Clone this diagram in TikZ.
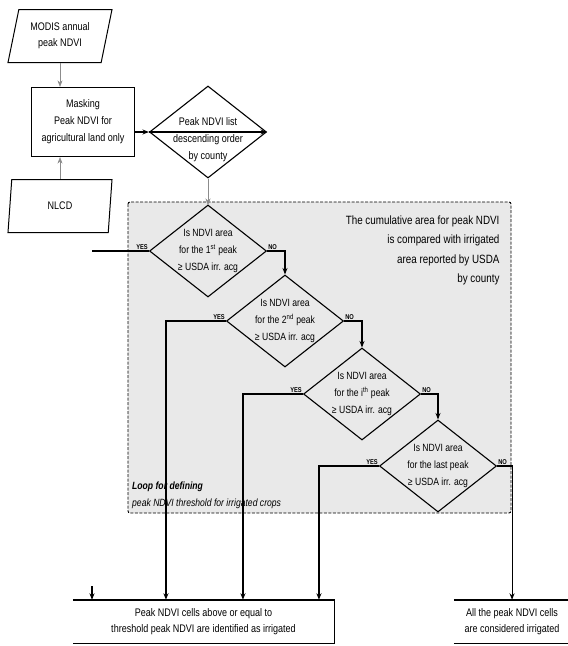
\documentclass[tikz,border=0pt]{standalone}
\usepackage{fontspec}
\setmainfont{Liberation Sans}[FakeStretch=0.82]
\usetikzlibrary{shapes.geometric,arrows.meta}
\definecolor{loopgray}{RGB}{233,233,233}
\tikzset{
  decision/.style={draw,diamond,line width=1.1pt,minimum width=117pt,minimum height=92pt,inner sep=0pt},
  dtext/.style={align=center,font=\fontsize{10.5}{17}\selectfont,inner sep=0pt},
  inout/.style={draw,trapezium,trapezium left angle=69,trapezium right angle=111,trapezium stretches body,
    line width=1pt,minimum width=104pt,minimum height=53pt,inner sep=1pt,align=center,font=\fontsize{11}{16}\selectfont},
  process/.style={draw,rectangle,line width=1.2pt,minimum width=103pt,minimum height=69pt,align=center,
    font=\fontsize{11}{17}\selectfont},
  result/.style={rectangle,minimum height=43pt,align=center,font=\fontsize{11}{16}\selectfont},
  boxline/.style={line width=1.4pt},
  flow/.style={line width=1.1pt},
  feed/.style={line width=0.5pt,black!45},
  yn/.style={font=\fontsize{7}{8}\selectfont\bfseries,inner sep=1pt},
  loopbox/.style={fill=loopgray,dash pattern=on 3pt off 1.5pt,line width=0.9pt,rounded corners=2pt},
}
\begin{document}
\begin{tikzpicture}[x=1pt,y=-1pt,>={Stealth[length=6.5pt,width=5pt]}]
\useasboundingbox (0,0) rectangle (568,646);
%Loop region
\draw[loopbox] (128,202) rectangle (511,513);
\node[align=right,anchor=north east,font=\fontsize{12}{19.5}\selectfont] (cmp) at (503,212)
  {The cumulative area for peak NDVI\\is compared with irrigated\\area reported by USDA\\by county};
\node[align=left,anchor=south west,font=\fontsize{10.5}{17}\selectfont\itshape,inner sep=0pt] (lbl) at (132,509)
  {\textbf{Loop for defining}\\peak NDVI threshold for irrigated crops};

%Inputs
\node[inout] (modis) at (60,36) {MODIS annual\\peak NDVI};
\node[process] (mask) at (83,122) {Masking\\Peak NDVI for\\agricultural land only};
\node[inout] (nlcd) at (60,206) {NLCD};
\node[decision] (list) at (208,132) {};
\node[dtext,font=\fontsize{11}{17}\selectfont] at (208,140) {Peak NDVI list\\descending order\\by county};

\draw[feed,->] (modis.south) -- (modis.south |- mask.north);
\draw[feed,->] (nlcd.north) -- (nlcd.north |- mask.south);
\draw[flow,->] (list.west -| mask.east) -- (list.west);
\draw[flow,->] (list.west) -- (list.east);
\draw[feed,->] (list.south) -- (208,205);

%Decisions
\node[decision] (d1) at (208,251) {};
\node[dtext] at (d1) {Is NDVI area\\for the 1\textsuperscript{st} peak\\≥ USDA irr. acg};
\node[decision] (d2) at (285,321) {};
\node[dtext] at (d2) {Is NDVI area\\for the 2\textsuperscript{nd} peak\\≥ USDA irr. acg};
\node[decision] (d3) at (362,394) {};
\node[dtext] at (d3) {Is NDVI area\\for the i\textsuperscript{th} peak\\≥ USDA irr. acg};
\node[decision] (d4) at (438,466) {};
\node[dtext] at (d4) {Is NDVI area\\for the last peak\\≥ USDA irr. acg};

\foreach \d in {d1,d2,d3,d4}{
  \node[yn,above left] at (\d.west) {YES};
  \node[yn,above right] at (\d.east) {NO};
}

%Results
\node[result,minimum width=261pt] (res) at (203.5,621.5)
  {Peak NDVI cells above or equal to\\threshold peak NDVI are identified as irrigated};
\draw[boxline] (res.north west) -- (res.north east) -- (res.south east) -- (res.south west);
\node[result,minimum width=116pt] (all) at (512,621.5) {All the peak NDVI cells\\are considered irrigated};
\draw[boxline] (all.north west) -- (all.north east) (all.south west) -- (all.south east);

\coordinate (y1) at (92,251);
\coordinate (stub) at (92,586);
\draw[flow] (d1.west) -- (y1);
\draw[flow,->] (stub) -- (stub |- res.north);

\draw[flow,->] (d1.east) -| (d2.north);
\draw[flow,->] (d2.east) -| (d3.north);
\draw[flow,->] (d3.east) -| (d4.north);
\draw[flow,->] (d4.east) -| ([xshift=15pt]d4.east |- all.north);

\draw[flow,->] (d2.west) -| ([xshift=-60pt]d2.west |- res.north);
\draw[flow,->] (d3.west) -| ([xshift=-60pt]d3.west |- res.north);
\draw[flow,->] (d4.west) -| ([xshift=-60pt]d4.west |- res.north);
\end{tikzpicture}
\end{document}
